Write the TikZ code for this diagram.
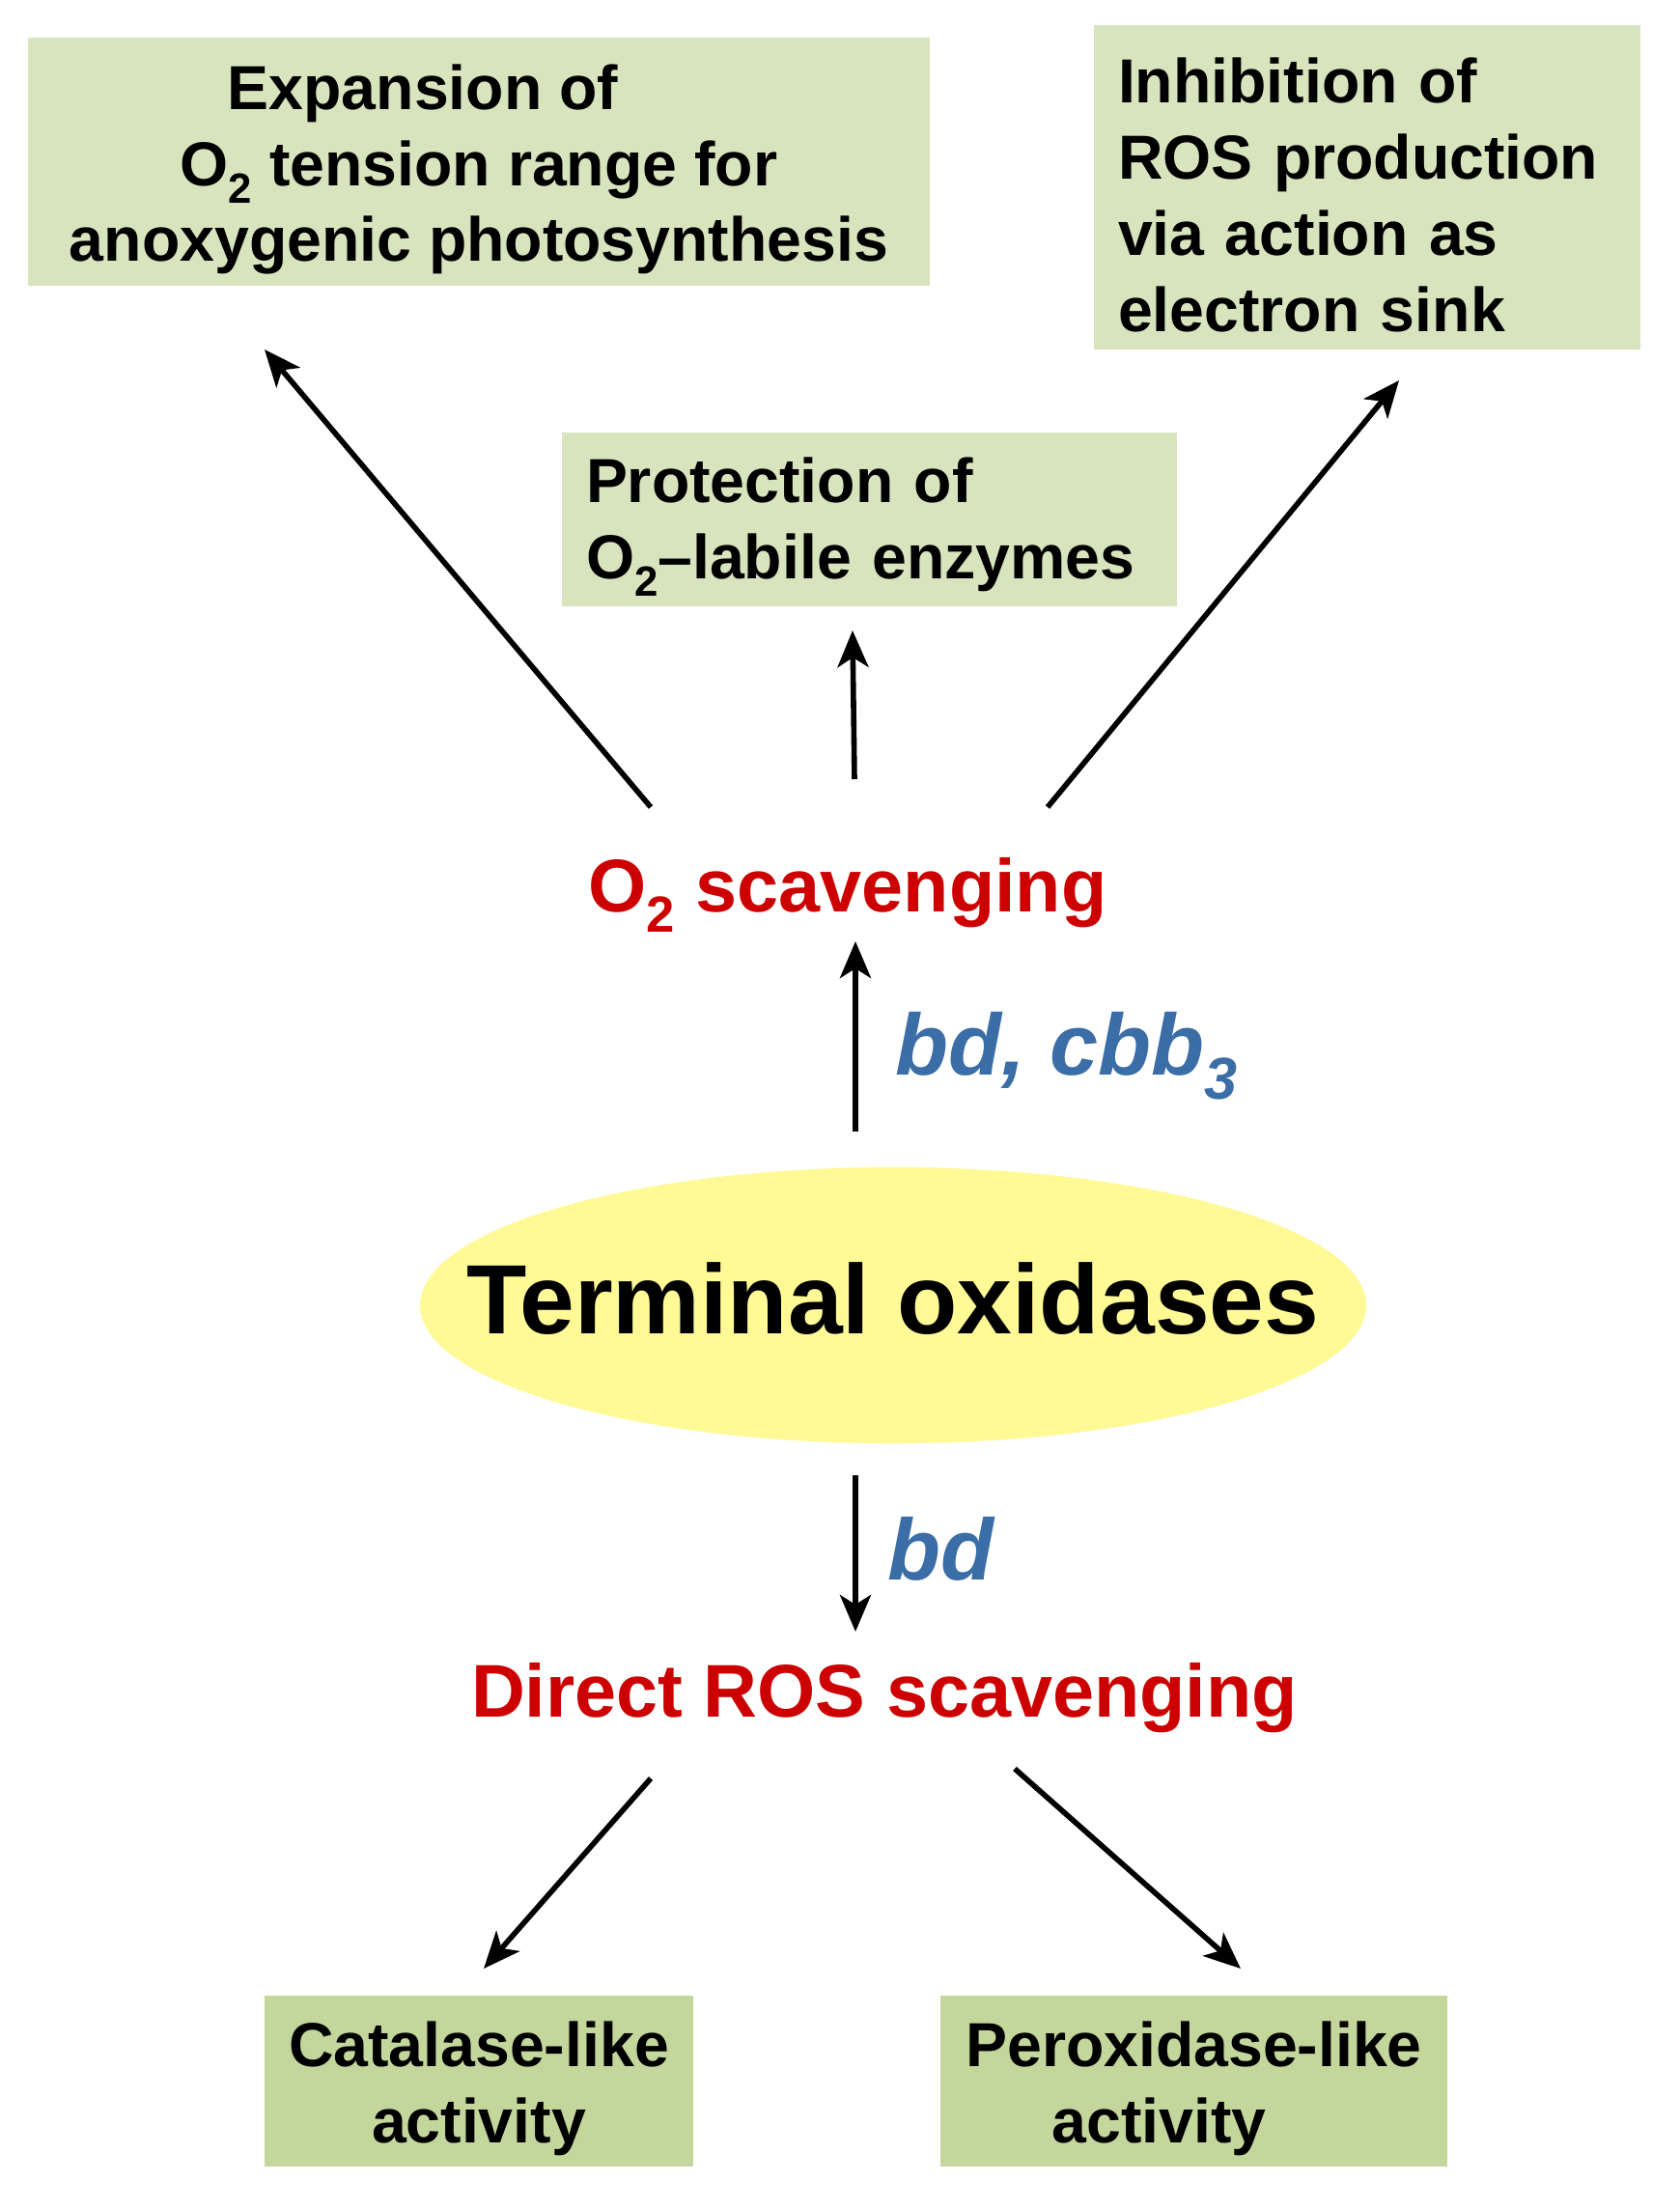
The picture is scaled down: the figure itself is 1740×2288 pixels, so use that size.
\documentclass[tikz,border=0pt]{standalone}
\usepackage{fontspec}
\setmainfont{Liberation Sans}
\usetikzlibrary{arrows.meta,shapes.geometric}
\definecolor{boxtop}{HTML}{D7E4BD}
\definecolor{boxbot}{HTML}{C3D69B}
\definecolor{ellfill}{HTML}{FFFA96}
\definecolor{redtxt}{HTML}{CC0000}
\definecolor{bluetxt}{HTML}{3B6DA6}
\newcommand{\lowsub}[1]{\raisebox{-0.28em}{\scalebox{0.68}{#1}}}
\tikzset{
  boxstyle/.style={fill=#1, inner sep=0pt},
  boxtext/.style={inner sep=0pt, yshift=-4pt, font=\fontsize{32.2}{39.4}\selectfont\bfseries},
  arr/.style={line width=2.8pt, -{Stealth[length=19pt,width=16pt,inset=5pt]}},
  redlabel/.style={text=redtxt, yshift=-3.5pt, font=\fontsize{38.7}{46}\selectfont\bfseries},
  bluelabel/.style={text=bluetxt, yshift=-3pt, font=\fontsize{45}{52}\selectfont\bfseries\itshape},
}
\begin{document}
\begin{tikzpicture}[x=0.5pt,y=-0.5pt]
\fill[white] (0,0) rectangle (1740,2288);
\useasboundingbox (0,0) rectangle (1740,2288);

% top boxes
\node[boxstyle=boxtop, minimum width=467pt, minimum height=128.5pt] (expansion) at (496,167.5) {};
\node[boxtext, align=center] (expansiontext) at (expansion.center)
  {Expansion of\hspace*{58pt}\\O\lowsub{2} tension range for\\anoxygenic photosynthesis};
\node[boxstyle=boxtop, minimum width=283pt, minimum height=168pt] (inhibition) at (1416,194) {};
\node[boxtext, text width=258pt, align=left] (inhibitiontext) at (inhibition.center)
  {Inhibition of\\ROS production\\via action as\\electron sink};
\node[boxstyle=boxtop, minimum width=318.5pt, minimum height=90pt] (protection) at (900.5,538) {};
\node[boxtext, text width=293.5pt, align=left] (protectiontext) at (protection.center)
  {Protection of\\O\lowsub{2}--labile enzymes};

% middle
\node[redlabel] (o2scav) at (878,920) {O\lowsub{2} scavenging};
\node[fill=ellfill, ellipse, minimum width=490pt, minimum height=143pt, inner sep=0pt] (terminal) at (925,1352) {};
\node[inner sep=0pt, yshift=3.5pt, font=\fontsize{51}{60}\selectfont\bfseries] (terminaltext) at (terminal.center) {Terminal oxidases};
\node[redlabel] (directros) at (916,1752) {Direct ROS scavenging};
\node[bluelabel, anchor=west] (bdcbb) at (920,1088) {bd, cbb\lowsub{3}};
\node[bluelabel, anchor=west] (bd) at (912,1598) {bd};

% bottom boxes
\node[boxstyle=boxbot, minimum width=222pt, minimum height=88.5pt] (catalase) at (496,2155.5) {};
\node[boxtext, align=center] (catalasetext) at (catalase.center) {Catalase-like\\activity};
\node[boxstyle=boxbot, minimum width=262.5pt, minimum height=88.5pt] (peroxidase) at (1236.5,2155.5) {};
\node[boxtext, align=center] (peroxidasetext) at (peroxidase.center) {Peroxidase-like\\activity\hspace*{36pt}};

% arrow endpoints
\coordinate (aL0) at (674,836);  \coordinate (aL1) at (274,362);
\coordinate (aM0) at (885,807);  \coordinate (aM1) at (883,653);
\coordinate (aR0) at (1085,836); \coordinate (aR1) at (1449,394);
\coordinate (aU0) at (886,1172); \coordinate (aU1) at (886,975);
\coordinate (aD0) at (886,1528); \coordinate (aD1) at (886,1690);
\coordinate (aC0) at (674,1842); \coordinate (aC1) at (501,2039);
\coordinate (aP0) at (1051,1832); \coordinate (aP1) at (1285,2039);

\draw[arr] (aL0) -- (aL1);
\draw[arr] (aM0) -- (aM1);
\draw[arr] (aR0) -- (aR1);
\draw[arr] (aU0) -- (aU1);
\draw[arr] (aD0) -- (aD1);
\draw[arr] (aC0) -- (aC1);
\draw[arr] (aP0) -- (aP1);
\end{tikzpicture}
\end{document}
